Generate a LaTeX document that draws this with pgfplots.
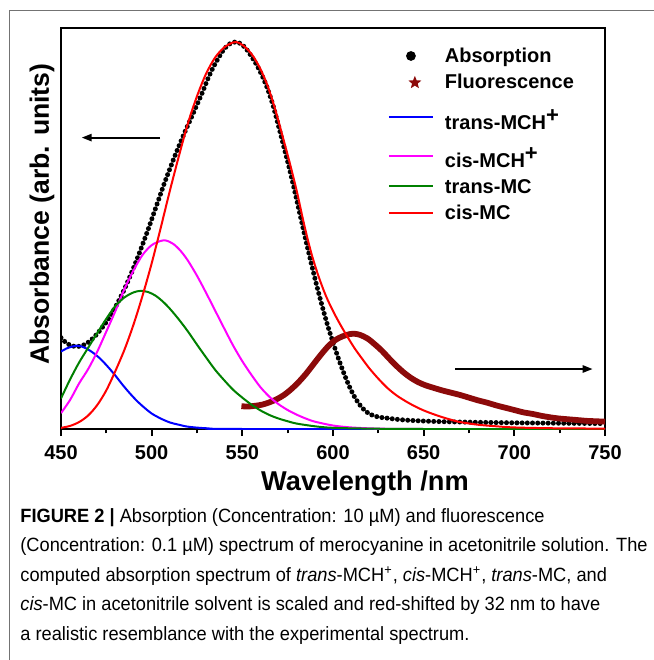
\documentclass[border=0pt]{standalone}
\usepackage{fontspec}
\setmainfont{Liberation Sans}
\newfontfamily\capfont[FakeStretch=0.95]{Liberation Sans}
\usepackage{pgfplots}
\pgfplotsset{compat=1.18}
\usetikzlibrary{arrows.meta,shapes.geometric}
\definecolor{fluo}{RGB}{140,10,10}
\definecolor{mygreen}{RGB}{0,128,0}
\definecolor{mymag}{RGB}{255,0,255}
\definecolor{myblue}{RGB}{0,0,255}
\definecolor{myred}{RGB}{255,0,0}
\begin{document}
\begin{tikzpicture}
\useasboundingbox (0,0) rectangle (327pt,330pt);
\draw[black!55, line width=0.5pt] (4.65pt,0) -- (4.65pt,324.65pt) -- (327pt,324.65pt);
\begin{axis}[
  at={(30.5pt,115.5pt)}, anchor=south west,
  scale only axis, width=272pt, height=200.75pt,
  xmin=450, xmax=750, ymin=0, ymax=1.0375,
  axis line style={line width=1pt},
  xtick={450,500,...,750}, minor x tick num=1, xtick pos=bottom, ytick=\empty,
  tick align=outside, major tick length=3.5pt, minor tick length=2.2pt,
  every tick/.style={black, line width=0.9pt},
  /pgf/number format/assume math mode=true,
  xticklabel style={font=\bfseries\fontsize{10}{12}\selectfont, inner sep=0pt, anchor=base, yshift=-11.5pt},
  xlabel={Wavelength /nm},
  xlabel style={at={(axis description cs:0.5588,0)}, anchor=base, yshift=-30.5pt, inner sep=0pt, font=\bfseries\fontsize{13.6}{16}\selectfont},
  ylabel={Absorbance (arb. units)},
  ylabel style={at={(axis description cs:-0.0221,0.5355)}, rotate=0, anchor=base, inner sep=0pt, font=\bfseries\fontsize{13.3}{16}\selectfont},
  legend cell align=left,
  legend style={draw=none, fill=none, at={(axis description cs:0.601,0.949)}, anchor=north west,
    inner sep=0pt, outer sep=0pt, row sep=3.5pt,
    nodes={inner sep=0pt, text depth=2.1pt, font=\bfseries\fontsize{10}{12}\selectfont},
    /tikz/every odd column/.append style={column sep=5.5pt}},
]
\addplot[black, line width=2.5pt, line cap=round, dash pattern=on 0pt off 2.6pt, smooth,
  legend image code/.code={\fill[black, solid] (11pt,0.75pt) circle[radius=1.1pt];}] table {
450 0.236
453 0.222
456 0.215
459 0.213
462 0.216
465 0.224
468 0.236
471 0.252
474 0.270
477 0.291
480 0.315
483 0.342
486 0.372
489 0.405
492 0.440
495 0.477
498 0.515
501 0.555
504 0.595
507 0.635
510 0.672
513 0.708
516 0.742
519 0.775
522 0.806
525 0.838
528 0.870
531 0.905
534 0.935
537 0.960
540 0.982
543 0.995
546 1.000
549 0.996
552 0.983
555 0.963
558 0.940
561 0.912
564 0.878
567 0.835
570 0.782
573 0.727
576 0.672
579 0.612
582 0.550
585 0.488
588 0.428
591 0.371
594 0.318
597 0.268
600 0.224
603 0.182
606 0.144
609 0.110
612 0.082
615 0.061
618 0.046
621 0.037
625 0.031
630 0.028
640 0.023
660 0.019
700 0.016
750 0.014
};
\addlegendentry{\rule{0pt}{7.4pt}Absorption}
\addplot[fluo, line width=2.9pt, smooth,
  legend image code/.code={\node[star, star points=5, star point ratio=2.3, fill=fluo, draw=none, solid, inner sep=0pt, minimum size=3.4pt] at (11pt,0.4pt) {};}] table {
549.5 0.059
553 0.058
557 0.060
561 0.063
565 0.069
569 0.077
573 0.088
577 0.103
581 0.121
585 0.142
589 0.166
593 0.190
597 0.212
601 0.229
605 0.239
609 0.245
612 0.246
615 0.243
619 0.234
623 0.219
627 0.202
631 0.182
635 0.163
639 0.146
643 0.132
647 0.121
651 0.113
655 0.107
660 0.100
665 0.094
670 0.088
675 0.081
680 0.074
685 0.068
690 0.061
695 0.055
700 0.049
705 0.043
710 0.039
715 0.034
720 0.030
725 0.027
730 0.025
735 0.023
740 0.021
745 0.020
750 0.019
};
\addlegendentry{\rule{0pt}{7.4pt}Fluorescence}
\addplot[myblue, line width=1pt, smooth,
  legend image code/.code={\draw[myblue, line width=1pt] (0pt,0.1pt) -- (22pt,0.1pt);}] table {
450 0.200
453 0.208
457 0.214
460 0.215
464 0.208
468 0.196
472 0.180
476 0.160
480 0.138
484 0.114
488 0.092
492 0.072
496 0.055
500 0.040
505 0.027
510 0.017
515 0.011
520 0.006
530 0.002
550 0.000
750 0.000
};
\addlegendentry{\rule{0pt}{14.7pt}trans-MCH\raisebox{3.5pt}{\fontsize{11}{11}\selectfont +}}
\addplot[mymag, line width=1pt, smooth,
  legend image code/.code={\draw[mymag, line width=1pt] (0pt,0.1pt) -- (22pt,0.1pt);}] table {
450 0.041
455 0.075
460 0.118
465 0.155
470 0.200
475 0.252
480 0.305
485 0.362
490 0.410
495 0.450
500 0.475
505 0.486
508 0.487
512 0.478
516 0.460
520 0.435
525 0.396
530 0.352
535 0.306
540 0.260
545 0.215
550 0.175
555 0.140
560 0.108
565 0.083
570 0.064
575 0.049
580 0.037
585 0.027
590 0.019
600 0.009
610 0.004
625 0.001
650 0.000
750 0.000
};
\addlegendentry{\rule{0pt}{13.6pt}cis-MCH\raisebox{3.5pt}{\fontsize{11}{11}\selectfont +}}
\addplot[mygreen, line width=1pt, smooth,
  legend image code/.code={\draw[mygreen, line width=1pt] (0pt,1.25pt) -- (22pt,1.25pt);}] table {
450 0.079
455 0.128
460 0.172
465 0.210
470 0.248
475 0.285
480 0.318
485 0.340
490 0.353
494 0.357
498 0.354
502 0.345
506 0.330
510 0.311
515 0.283
520 0.252
525 0.218
530 0.185
535 0.153
540 0.126
545 0.101
550 0.081
555 0.063
560 0.048
565 0.036
570 0.027
575 0.020
580 0.014
590 0.007
600 0.003
620 0.001
650 0.000
750 0.000
};
\addlegendentry{\rule{0pt}{7.4pt}trans-MC}
\addplot[myred, line width=1pt, smooth,
  legend image code/.code={\draw[myred, line width=1pt] (0pt,0.8pt) -- (22pt,0.8pt);}] table {
450 0.003
455 0.008
460 0.018
465 0.035
470 0.062
475 0.100
480 0.150
485 0.205
490 0.270
495 0.345
500 0.428
505 0.520
510 0.615
515 0.705
520 0.790
525 0.860
530 0.918
535 0.960
540 0.986
545 0.999
548 0.998
552 0.985
556 0.963
560 0.930
564 0.886
568 0.828
572 0.760
576 0.690
580 0.615
584 0.530
588 0.455
592 0.395
596 0.345
600 0.305
604 0.270
608 0.238
612 0.208
616 0.182
620 0.157
625 0.130
630 0.106
635 0.087
640 0.072
645 0.059
650 0.048
655 0.039
660 0.031
665 0.024
670 0.018
680 0.011
690 0.007
700 0.004
720 0.002
750 0.001
};
\addlegendentry{\rule{0pt}{7.4pt}cis-MC}
\draw[line width=1pt, -{Triangle[length=5pt,width=3.6pt]}] (axis cs:504.6,0.753) -- (axis cs:461.4,0.753);
\draw[line width=1pt, -{Triangle[length=5pt,width=3.6pt]}] (axis cs:667.3,0.155) -- (axis cs:743.2,0.155);
\node[rotate=90, anchor=base, inner sep=0pt, font=\bfseries\fontsize{11.9}{14}\selectfont] at (axis description cs:1.0496,0.518) {Fluorescence Instensity (arb. units)};
\end{axis}
\begin{scope}[every node/.style={anchor=base west, inner sep=0pt, font=\capfont\fontsize{9.6}{12}\selectfont}]
\node at (10pt,68.75pt) {\textbf{FIGURE 2 |} Absorption (Concentration: 10 µM) and fluorescence};
\node at (10pt,54pt) {(Concentration: 0.1 µM) spectrum of merocyanine in acetonitrile solution. The};
\node at (10pt,39.25pt) {computed absorption spectrum of \textit{trans}-MCH\textsuperscript{+}, \textit{cis}-MCH\textsuperscript{+}, \textit{trans}-MC, and};
\node at (10pt,24.5pt) {\textit{cis}-MC in acetonitrile solvent is scaled and red-shifted by 32 nm to have};
\node at (10pt,9.75pt) {a realistic resemblance with the experimental spectrum.};
\end{scope}
\end{tikzpicture}
\end{document}
